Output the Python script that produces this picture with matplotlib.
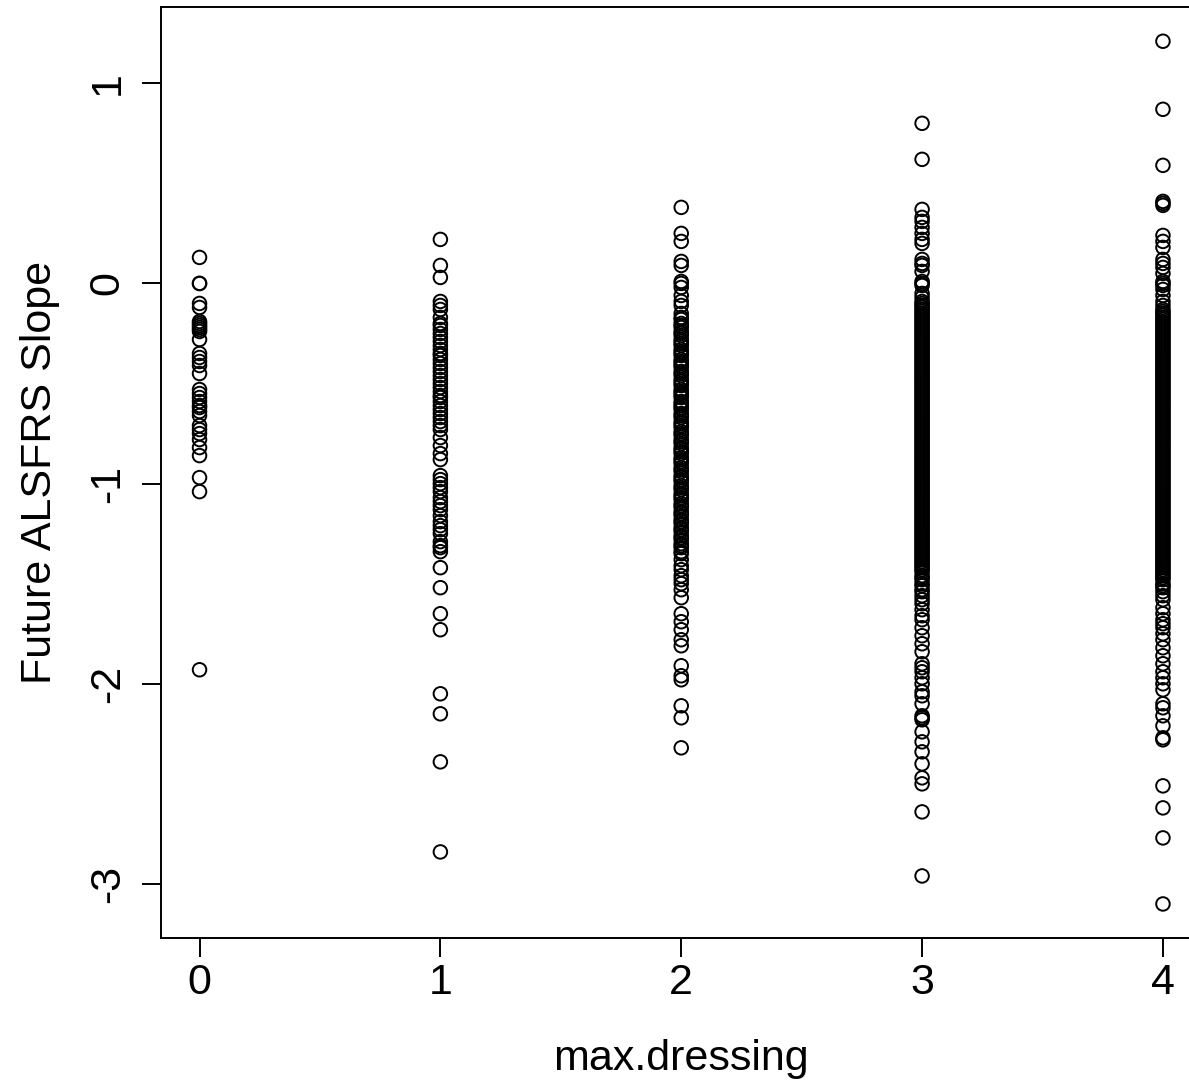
import matplotlib
matplotlib.use("Agg")
import matplotlib.pyplot as plt

plt.rcParams['font.family'] = ['Liberation Sans', 'DejaVu Sans']

# Future ALSFRS slope grouped by max.dressing score
dress_levels = [0, 1, 2, 3, 4]

slope_0 = [0.13, 0.00, 0.00, -0.10, -0.12, -0.19, -0.20, -0.21, -0.22, -0.23,
           -0.24, -0.28, -0.35, -0.37, -0.39, -0.41, -0.45, -0.53, -0.55, -0.57,
           -0.59, -0.61, -0.62, -0.64, -0.66, -0.71, -0.73, -0.75, -0.78, -0.82,
           -0.86, -0.97, -1.04, -1.93]

slope_1 = [0.22, 0.09, 0.03, -0.09, -0.11, -0.13, -0.17, -0.20, -0.21, -0.23,
           -0.25, -0.27, -0.29, -0.31, -0.33, -0.35, -0.36, -0.38, -0.40, -0.42,
           -0.44, -0.46, -0.48, -0.50, -0.52, -0.54, -0.56, -0.57, -0.59, -0.61,
           -0.63, -0.65, -0.67, -0.69, -0.71, -0.73, -0.77, -0.81, -0.85, -0.88,
           -0.96, -0.98, -1.00, -1.02, -1.04, -1.07, -1.09, -1.11, -1.13, -1.16,
           -1.19, -1.21, -1.23, -1.25, -1.29, -1.31, -1.32, -1.34, -1.42, -1.52,
           -1.65, -1.73, -2.05, -2.15, -2.39, -2.84]

slope_2 = [0.38, 0.25, 0.21, 0.11, 0.09, 0.01, 0.00, -0.02, -0.06, -0.09,
           -0.11, -0.15, -0.17, -0.18, -0.20, -0.21, -0.22, -0.24, -0.25, -0.26,
           -0.28, -0.29, -0.30, -0.31, -0.33, -0.34, -0.35, -0.36, -0.38, -0.39,
           -0.40, -0.41, -0.42, -0.44, -0.45, -0.46, -0.48, -0.49, -0.50, -0.51,
           -0.53, -0.54, -0.55, -0.56, -0.57, -0.59, -0.60, -0.61, -0.62, -0.63,
           -0.65, -0.66, -0.67, -0.69, -0.70, -0.71, -0.72, -0.74, -0.75, -0.76,
           -0.78, -0.79, -0.80, -0.82, -0.83, -0.84, -0.85, -0.87, -0.88, -0.89,
           -0.90, -0.92, -0.93, -0.94, -0.96, -0.97, -0.98, -0.99, -1.01, -1.02,
           -1.03, -1.05, -1.06, -1.07, -1.08, -1.10, -1.11, -1.12, -1.14, -1.15,
           -1.16, -1.18, -1.19, -1.20, -1.22, -1.23, -1.24, -1.26, -1.27, -1.28,
           -1.30, -1.31, -1.32, -1.34, -1.35, -1.38, -1.41, -1.43, -1.46, -1.48,
           -1.50, -1.53, -1.57, -1.65, -1.69, -1.73, -1.78, -1.81, -1.91, -1.96,
           -1.98, -2.11, -2.17, -2.32]

slope_3 = [0.80, 0.62, 0.37, 0.33, 0.31, 0.28, 0.25, 0.22, 0.20, 0.12,
           0.10, 0.09, 0.06, 0.01, 0.00, -0.01, -0.05, -0.07, -0.09, -0.10,
           -0.11, -0.12, -0.13, -0.14, -0.15, -0.16, -0.17, -0.18, -0.19, -0.20,
           -0.21, -0.22, -0.23, -0.24, -0.25, -0.26, -0.27, -0.28, -0.29, -0.30,
           -0.31, -0.32, -0.33, -0.34, -0.35, -0.36, -0.37, -0.38, -0.39, -0.40,
           -0.41, -0.42, -0.43, -0.44, -0.45, -0.46, -0.47, -0.48, -0.49, -0.50,
           -0.51, -0.52, -0.53, -0.54, -0.55, -0.56, -0.57, -0.58, -0.59, -0.60,
           -0.61, -0.62, -0.63, -0.64, -0.65, -0.66, -0.67, -0.68, -0.69, -0.70,
           -0.71, -0.72, -0.73, -0.74, -0.75, -0.76, -0.77, -0.78, -0.79, -0.80,
           -0.81, -0.82, -0.83, -0.84, -0.85, -0.86, -0.87, -0.88, -0.89, -0.90,
           -0.91, -0.92, -0.93, -0.94, -0.95, -0.96, -0.97, -0.98, -0.99, -1.00,
           -1.01, -1.02, -1.03, -1.04, -1.05, -1.06, -1.07, -1.08, -1.09, -1.10,
           -1.11, -1.12, -1.13, -1.14, -1.15, -1.16, -1.17, -1.18, -1.19, -1.20,
           -1.21, -1.22, -1.23, -1.24, -1.25, -1.26, -1.27, -1.28, -1.29, -1.30,
           -1.31, -1.32, -1.33, -1.34, -1.35, -1.36, -1.37, -1.38, -1.39, -1.40,
           -1.41, -1.42, -1.43, -1.44, -1.46, -1.47, -1.48, -1.50, -1.51, -1.53,
           -1.54, -1.56, -1.58, -1.60, -1.63, -1.66, -1.68, -1.72, -1.76, -1.80,
           -1.84, -1.90, -1.92, -1.94, -1.97, -2.00, -2.04, -2.06, -2.10, -2.16,
           -2.17, -2.18, -2.24, -2.29, -2.34, -2.40, -2.47, -2.50, -2.64, -2.96]

slope_4 = [1.21, 0.87, 0.59, 0.41, 0.40, 0.39, 0.24, 0.21, 0.18, 0.12,
           0.10, 0.08, 0.05, 0.01, 0.00, -0.01, -0.03, -0.06, -0.09, -0.11,
           -0.13, -0.14, -0.15, -0.16, -0.17, -0.18, -0.19, -0.20, -0.21, -0.22,
           -0.23, -0.24, -0.25, -0.26, -0.27, -0.28, -0.29, -0.30, -0.31, -0.32,
           -0.33, -0.34, -0.35, -0.36, -0.37, -0.38, -0.39, -0.40, -0.41, -0.42,
           -0.43, -0.44, -0.45, -0.46, -0.47, -0.48, -0.49, -0.50, -0.51, -0.52,
           -0.53, -0.54, -0.55, -0.56, -0.57, -0.58, -0.59, -0.60, -0.61, -0.62,
           -0.63, -0.64, -0.65, -0.66, -0.67, -0.68, -0.69, -0.70, -0.71, -0.72,
           -0.73, -0.74, -0.75, -0.76, -0.77, -0.78, -0.79, -0.80, -0.81, -0.82,
           -0.83, -0.84, -0.85, -0.86, -0.87, -0.88, -0.89, -0.90, -0.91, -0.92,
           -0.93, -0.94, -0.95, -0.96, -0.97, -0.98, -0.99, -1.00, -1.01, -1.02,
           -1.03, -1.04, -1.05, -1.06, -1.07, -1.08, -1.09, -1.10, -1.11, -1.12,
           -1.13, -1.14, -1.15, -1.16, -1.17, -1.18, -1.19, -1.20, -1.21, -1.22,
           -1.23, -1.24, -1.25, -1.26, -1.27, -1.28, -1.29, -1.30, -1.31, -1.32,
           -1.33, -1.34, -1.35, -1.36, -1.37, -1.38, -1.39, -1.40, -1.41, -1.42,
           -1.43, -1.44, -1.45, -1.46, -1.47, -1.48, -1.50, -1.51, -1.52, -1.54,
           -1.56, -1.58, -1.62, -1.65, -1.68, -1.70, -1.72, -1.75, -1.78, -1.82,
           -1.86, -1.90, -1.94, -1.97, -2.00, -2.03, -2.10, -2.12, -2.16, -2.21,
           -2.27, -2.28, -2.51, -2.62, -2.77, -3.10]

groups = [slope_0, slope_1, slope_2, slope_3, slope_4]
x_ticks = [0, 1, 2, 3, 4]
y_ticks = [-3, -2, -1, 0, 1]

fig = plt.figure(figsize=(11.89, 10.85), dpi=100)
ax = fig.add_axes([0.1354, 0.1355, 0.8751, 0.8584])

for level, vals in zip(dress_levels, groups):
    ax.scatter([level] * len(vals), vals, s=95, facecolors='none',
               edgecolors='black', linewidths=1.4, zorder=3)

ax.set_xlim(-0.16, 4.16)
ax.set_ylim(-3.27, 1.383)
ax.set_xticks(x_ticks)
ax.set_yticks(y_ticks)
ax.set_xticklabels([str(t) for t in x_ticks], fontsize=31)
ax.set_yticklabels([str(t) for t in y_ticks], fontsize=31, rotation=90,
                   va='center')
ax.tick_params(axis='x', direction='out', length=14, width=1.4, pad=4,
               colors='black')
ax.tick_params(axis='y', direction='out', length=14, width=1.4, pad=10,
               colors='black')
for sp in ax.spines.values():
    sp.set_linewidth(1.4)

ax.set_xlabel('max.dressing', fontsize=31, labelpad=26)
ax.set_ylabel('Future ALSFRS Slope', fontsize=31, labelpad=20)

fig.savefig('out.png', dpi=100)
